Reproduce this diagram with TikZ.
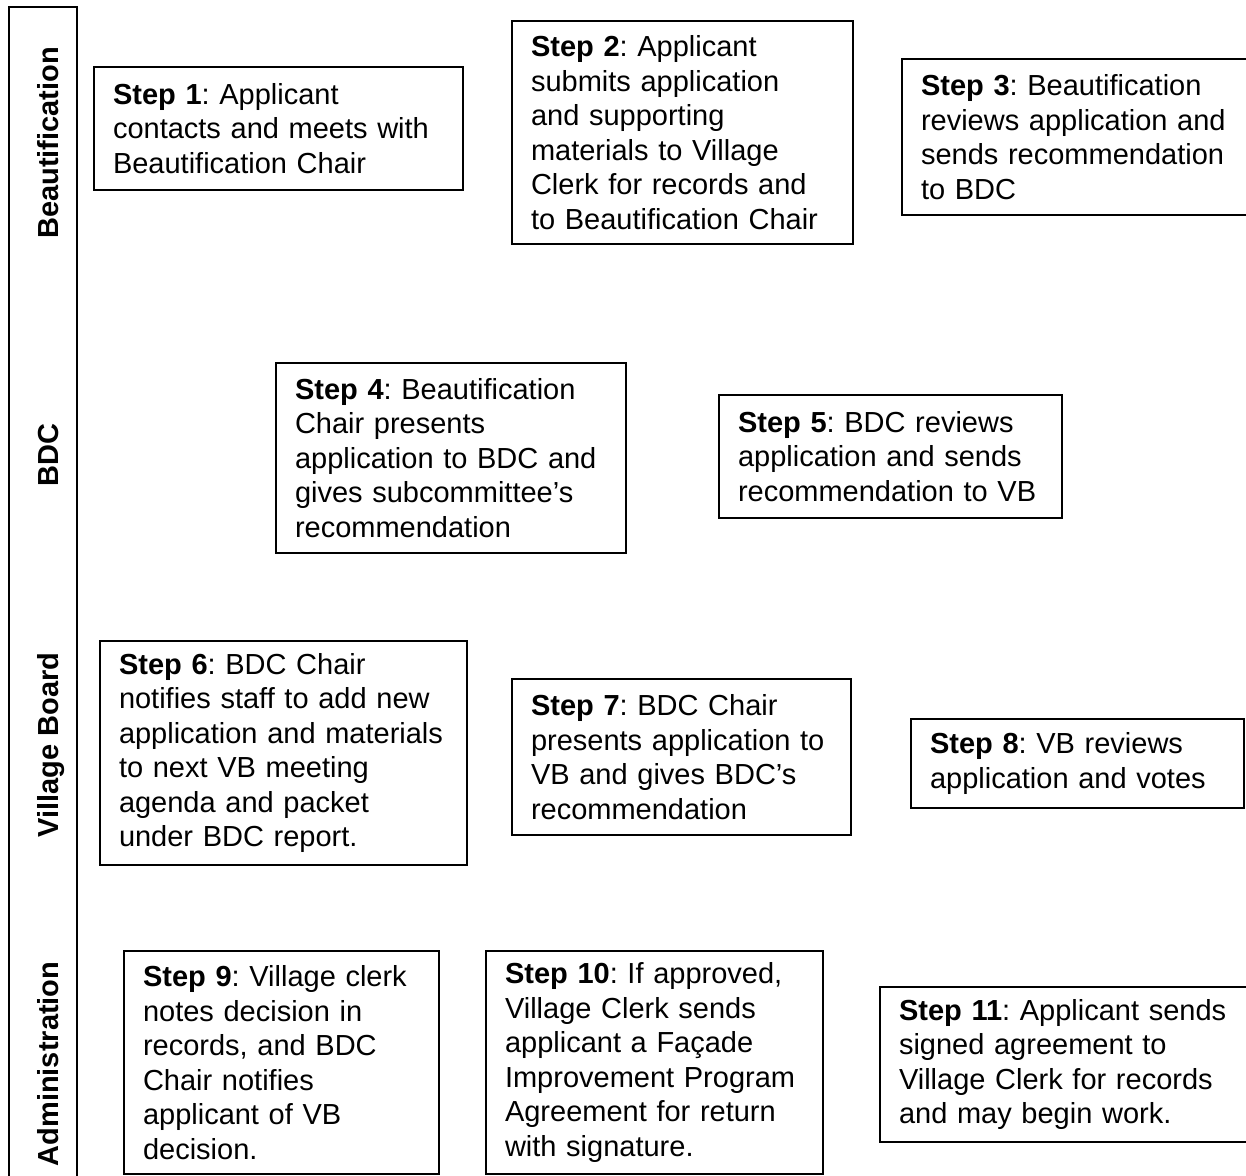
\documentclass[tikz,border=0pt]{standalone}
\usepackage{fontspec}
\setmainfont{Liberation Sans}
\usepackage{tikz}
\usetikzlibrary{positioning}
\hyphenpenalty=10000
\frenchspacing

\begin{document}
\begin{tikzpicture}[x=0.5pt,y=-0.5pt,
  stepbox/.style={draw, line width=1pt, anchor=north west, align=left,
    inner xsep=9.5pt, inner ysep=0pt,
    font=\fontsize{14.5pt}{17.25pt}\selectfont},
  lanelabel/.style={rotate=90, anchor=base, inner sep=0pt,
    font=\fontsize{14.5pt}{17.25pt}\selectfont\bfseries}]
\useasboundingbox (0,0) rectangle (1246,1175);
% lane bar
\draw [line width=1pt] (9,1190) -- (9,7) -- (77,7) -- (77,1190);
\node (beau) [lanelabel] at (58,143) {Beautification};
\node (bdc) [lanelabel] at (58,455) {BDC};
\node (vb) [lanelabel] at (58,745) {Village Board};
\node (admin) [lanelabel] at (58,1064) {Administration};
% Beautification
\node (s1) [stepbox, text width=165.5pt, minimum height=61.5pt] at (93,66)
  {\textbf{Step 1}: Applicant\\contacts and meets with\\Beautification Chair};
\node (s2) [stepbox, text width=151.5pt, minimum height=111.5pt] at (511,20)
  {\textbf{Step 2}: Applicant\\submits application\\and supporting\\materials to Village\\Clerk for records and\\to Beautification Chair};
\node (s3) [stepbox, text width=155.5pt, minimum height=78pt] at (901,58)
  {\textbf{Step 3}: Beautification\\reviews application and\\sends recommendation\\to BDC};
% BDC
\node (s4) [stepbox, text width=156pt, minimum height=95pt] at (275,362)
  {\textbf{Step 4}: Beautification\\Chair presents\\application to BDC and\\gives subcommittee’s\\recommendation};
\node (s5) [stepbox, text width=152.5pt, minimum height=61.5pt] at (718,394)
  {\textbf{Step 5}: BDC reviews\\application and sends\\recommendation to VB};
% Village Board
\node (s6) [stepbox, text width=164.5pt, minimum height=112pt] at (99,640)
  {\textbf{Step 6}: BDC Chair\\notifies staff to add new\\application and materials\\to next VB meeting\\agenda and packet\\under BDC report.};
\node (s7) [stepbox, text width=150.5pt, minimum height=78pt] at (511,678)
  {\textbf{Step 7}: BDC Chair\\presents application to\\VB and gives BDC’s\\recommendation};
\node (s8) [stepbox, text width=147.5pt, minimum height=44.5pt] at (910,718)
  {\textbf{Step 8}: VB reviews\\application and votes};
% Administration
\node (s9) [stepbox, text width=138.5pt, minimum height=111.5pt] at (123,950)
  {\textbf{Step 9}: Village clerk\\notes decision in\\records, and BDC\\Chair notifies\\applicant of VB\\decision.};
\node (s10) [stepbox, text width=149.5pt, minimum height=111.5pt] at (485,950)
  {\textbf{Step 10}: If approved,\\Village Clerk sends\\applicant a Façade\\Improvement Program\\Agreement for return\\with signature.};
\node (s11) [stepbox, text width=166pt, minimum height=77.5pt] at (879,986)
  {\textbf{Step 11}: Applicant sends\\signed agreement to\\Village Clerk for records\\and may begin work.};
\end{tikzpicture}
\end{document}
